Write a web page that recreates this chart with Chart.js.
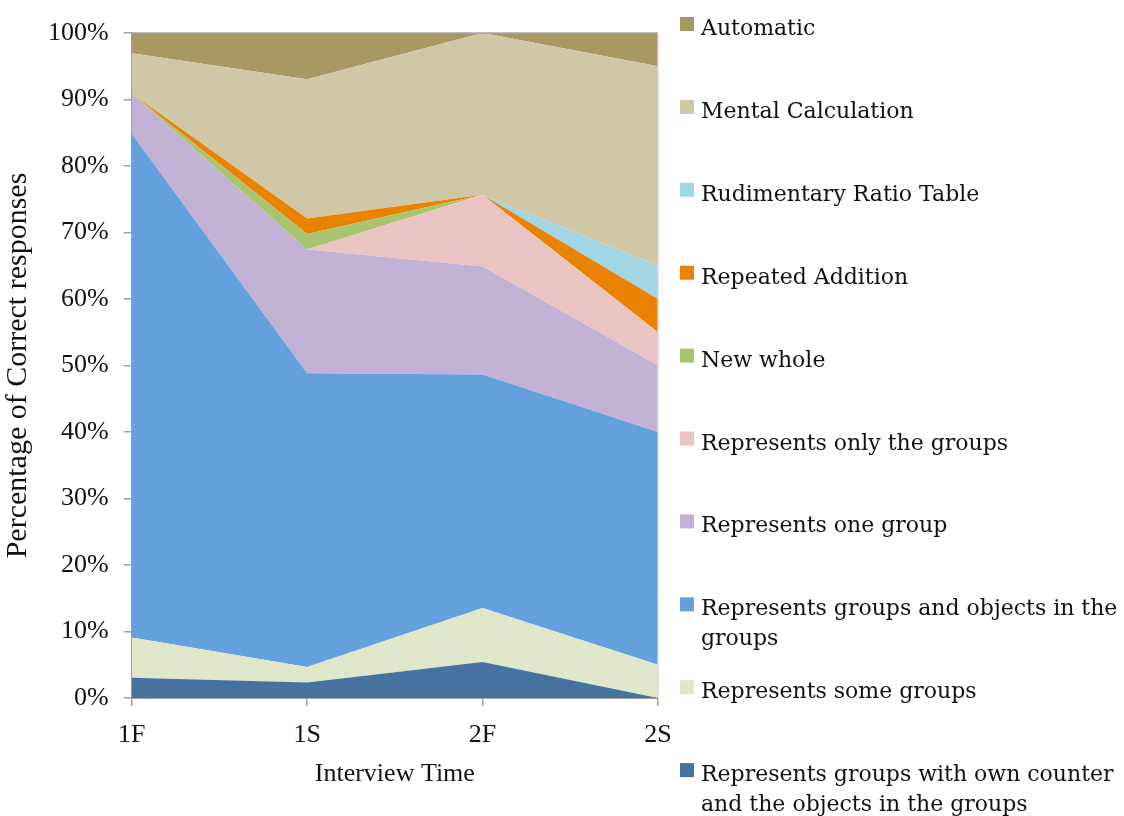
<!DOCTYPE html>
<html>
<head>
<meta charset="utf-8">
<script src="https://cdn.jsdelivr.net/npm/chart.js@4/dist/chart.umd.min.js"></script>
<style>
  html, body { margin: 0; padding: 0; background: #fff; }
  #wrap { width: 1124px; height: 816px; }
</style>
</head>
<body>
<div id="wrap"><canvas id="stackChart" width="1124" height="816"></canvas></div>
<script>
// interview times
var categories = ['1F', '1S', '2F', '2S'];

// percentage of correct responses per strategy (bottom of stack first)
var ownCounter     = [3.03, 2.33, 5.41, 0];
var someGroups     = [6.06, 2.33, 8.11, 5];
var groupsObjects  = [75.76, 44.19, 35.14, 35];
var oneGroup       = [6.06, 18.60, 16.22, 10];
var onlyGroups     = [0, 0, 10.81, 5];
var newWhole       = [0, 2.33, 0, 0];
var repeatedAdd    = [0, 2.33, 0, 5];
var ratioTable     = [0, 0, 0, 5];
var mentalCalc     = [6.06, 20.93, 24.32, 30];
var automatic      = [3.03, 6.98, 0, 5];

var seriesNames = [
  'Represents groups with own counter\nand the objects in the groups',
  'Represents some groups',
  'Represents groups and objects in the\ngroups',
  'Represents one group',
  'Represents only the groups',
  'New whole',
  'Repeated Addition',
  'Rudimentary Ratio Table',
  'Mental Calculation',
  'Automatic'
];
var seriesValues = [ownCounter, someGroups, groupsObjects, oneGroup, onlyGroups,
                    newWhole, repeatedAdd, ratioTable, mentalCalc, automatic];
var seriesColors = ['#4672a0', '#dfe6c9', '#63a0dc', '#c1b1d4', '#eac4c3',
                    '#a9c46e', '#e98200', '#a2d6e4', '#d0c7a7', '#a59863'];

var datasets = seriesValues.map(function (vals, i) {
  return {
    label: seriesNames[i],
    data: vals,
    backgroundColor: seriesColors[i],
    borderColor: seriesColors[i],
    borderWidth: 0,
    pointRadius: 0,
    tension: 0,
    fill: i === 0 ? 'origin' : '-1'
  };
});

// legend on the right, top item = top of stack
var sideLegend = {
  id: 'sideLegend',
  afterDraw: function (chart) {
    var ctx = chart.ctx;
    var ds = chart.data.datasets;
    ctx.save();
    ctx.font = '22px "DejaVu Serif"';
    ctx.textBaseline = 'alphabetic';
    ctx.textAlign = 'left';
    for (var k = 0; k < ds.length; k++) {
      var d = ds[ds.length - 1 - k];
      var y = 17 + k * 82.9;
      ctx.fillStyle = d.backgroundColor;
      ctx.fillRect(680, y, 14, 14);
      ctx.fillStyle = '#111';
      var lines = d.label.split('\n');
      for (var j = 0; j < lines.length; j++) {
        ctx.fillText(lines[j], 701, y + 18 + j * 30);
      }
    }
    ctx.restore();
  }
};

// thin frame on top and right of the plot
var plotFrame = {
  id: 'plotFrame',
  afterDatasetsDraw: function (chart) {
    var a = chart.chartArea, ctx = chart.ctx;
    ctx.save();
    ctx.lineWidth = 1.5;
    ctx.strokeStyle = '#a6a6a6';
    ctx.beginPath();
    ctx.moveTo(a.left, a.top);
    ctx.lineTo(a.right, a.top);
    ctx.stroke();
    ctx.strokeStyle = '#d9d9d9';
    ctx.beginPath();
    ctx.moveTo(a.right, a.top);
    ctx.lineTo(a.right, a.bottom);
    ctx.stroke();
    ctx.restore();
  }
};

var serif = '"Liberation Serif", "Times New Roman", serif';
var tickFont = { family: serif, size: 26, lineHeight: 1.0 };

var ctx = document.getElementById('stackChart').getContext('2d');
var stackChart = new Chart(ctx, {
  type: 'line',
  data: { labels: categories, datasets: datasets },
  options: {
    responsive: false,
    animation: false,
    layout: { padding: { left: 0, right: 466, top: 33, bottom: 29 } },
    plugins: {
      legend: { display: false },
      tooltip: { enabled: false }
    },
    scales: {
      x: {
        offset: false,
        grid: { display: true, drawOnChartArea: false, drawTicks: true, tickLength: 8, color: '#a0a0a0', lineWidth: 1.5 },
        border: { display: true, color: '#a0a0a0', width: 2 },
        ticks: { color: '#111', font: tickFont, padding: 16, maxRotation: 0 },
        title: { display: true, text: 'Interview Time', color: '#111', font: { family: serif, size: 26, lineHeight: 1.0 }, padding: { top: -3, bottom: 0 } }
      },
      y: {
        stacked: true,
        min: 0,
        max: 100,
        grid: { display: true, drawOnChartArea: false, drawTicks: true, tickLength: 8, color: '#a0a0a0', lineWidth: 1.5 },
        border: { display: true, color: '#a0a0a0', width: 2 },
        ticks: {
          stepSize: 10,
          color: '#111',
          font: tickFont,
          padding: 15,
          callback: function (v) { return v + '%'; }
        },
        title: { display: true, text: 'Percentage of Correct responses', color: '#111', font: { family: serif, size: 30, lineHeight: 1.0 }, padding: { top: 3, bottom: 0 } }
      }
    }
  },
  plugins: [sideLegend, plotFrame]
});
</script>
</body>
</html>
